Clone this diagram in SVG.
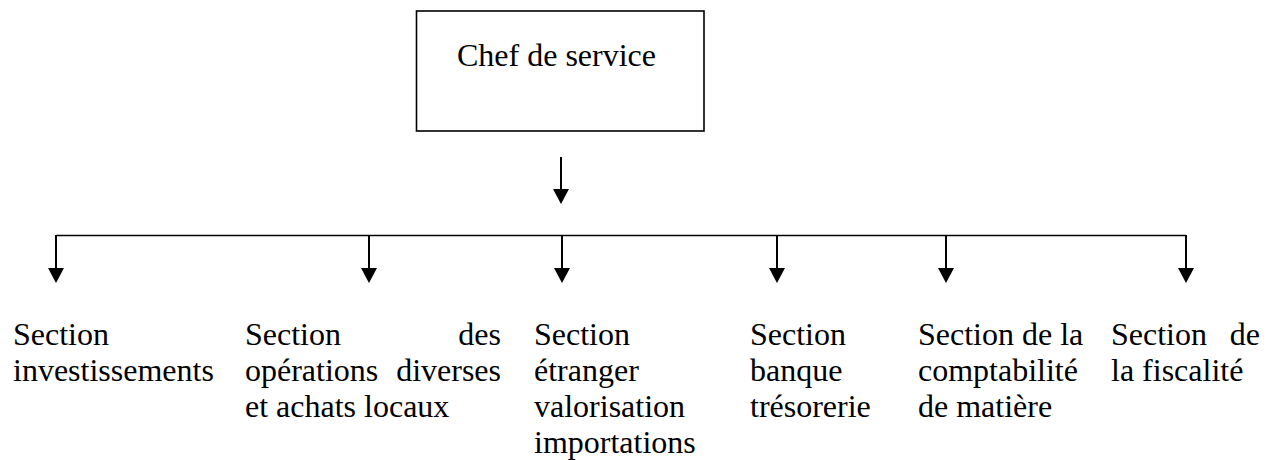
<svg xmlns="http://www.w3.org/2000/svg" width="1273" height="460" viewBox="0 0 1273 460">
  <style>
    .lbl { font-family: "Liberation Serif", "Times New Roman", serif; font-size: 32px; fill: #000; }
    .box { fill: #fff; stroke: #000; stroke-width: 1.6; }
    .wire { fill: none; stroke: #000; stroke-width: 1.6; }
    .drop { fill: none; stroke: #000; stroke-width: 2; marker-end: url(#head); }
  </style>
  <defs>
    <marker id="head" markerUnits="userSpaceOnUse" viewBox="0 0 15 16" refX="0" refY="8" markerWidth="15" markerHeight="16" orient="auto">
      <path d="M0,0 L15,8 L0,16 Z" fill="#000"/>
    </marker>
  </defs>
  <rect width="1273" height="460" fill="#fff"/>

  <!-- top box -->
  <g id="chef">
    <rect class="box" x="416.5" y="11" width="287.5" height="120"/>
    <text class="lbl" x="457" y="66">Chef de service</text>
  </g>

  <!-- connectors -->
  <g id="connectors">
    <path class="drop" d="M561,157 V189"/>
    <path class="wire" d="M56,235.5 H1186"/>
    <path class="drop" d="M56,235 V268"/>
    <path class="drop" d="M369,235 V268"/>
    <path class="drop" d="M562,235 V268"/>
    <path class="drop" d="M777,235 V268"/>
    <path class="drop" d="M946,235 V268"/>
    <path class="drop" d="M1186,235 V268"/>
  </g>

  <!-- sections -->
  <g id="s-investissements">
    <text class="lbl" x="13" y="345">Section</text>
    <text class="lbl" x="13" y="381">investissements</text>
  </g>
  <g id="s-operations">
    <text class="lbl" x="245" y="345">Section</text>
    <text class="lbl" x="501" y="345" text-anchor="end">des</text>
    <text class="lbl" x="245" y="381">opérations</text>
    <text class="lbl" x="501" y="381" text-anchor="end">diverses</text>
    <text class="lbl" x="245" y="417">et achats locaux</text>
  </g>
  <g id="s-etranger">
    <text class="lbl" x="534" y="345">Section</text>
    <text class="lbl" x="534" y="381">étranger</text>
    <text class="lbl" x="534" y="417">valorisation</text>
    <text class="lbl" x="534" y="453">importations</text>
  </g>
  <g id="s-banque">
    <text class="lbl" x="750" y="345">Section</text>
    <text class="lbl" x="750" y="381">banque</text>
    <text class="lbl" x="750" y="417">trésorerie</text>
  </g>
  <g id="s-comptabilite">
    <text class="lbl" x="918" y="345">Section de la</text>
    <text class="lbl" x="918" y="381">comptabilité</text>
    <text class="lbl" x="918" y="417">de matière</text>
  </g>
  <g id="s-fiscalite">
    <text class="lbl" x="1111" y="345">Section</text>
    <text class="lbl" x="1260" y="345" text-anchor="end">de</text>
    <text class="lbl" x="1111" y="381">la fiscalité</text>
  </g>
</svg>
